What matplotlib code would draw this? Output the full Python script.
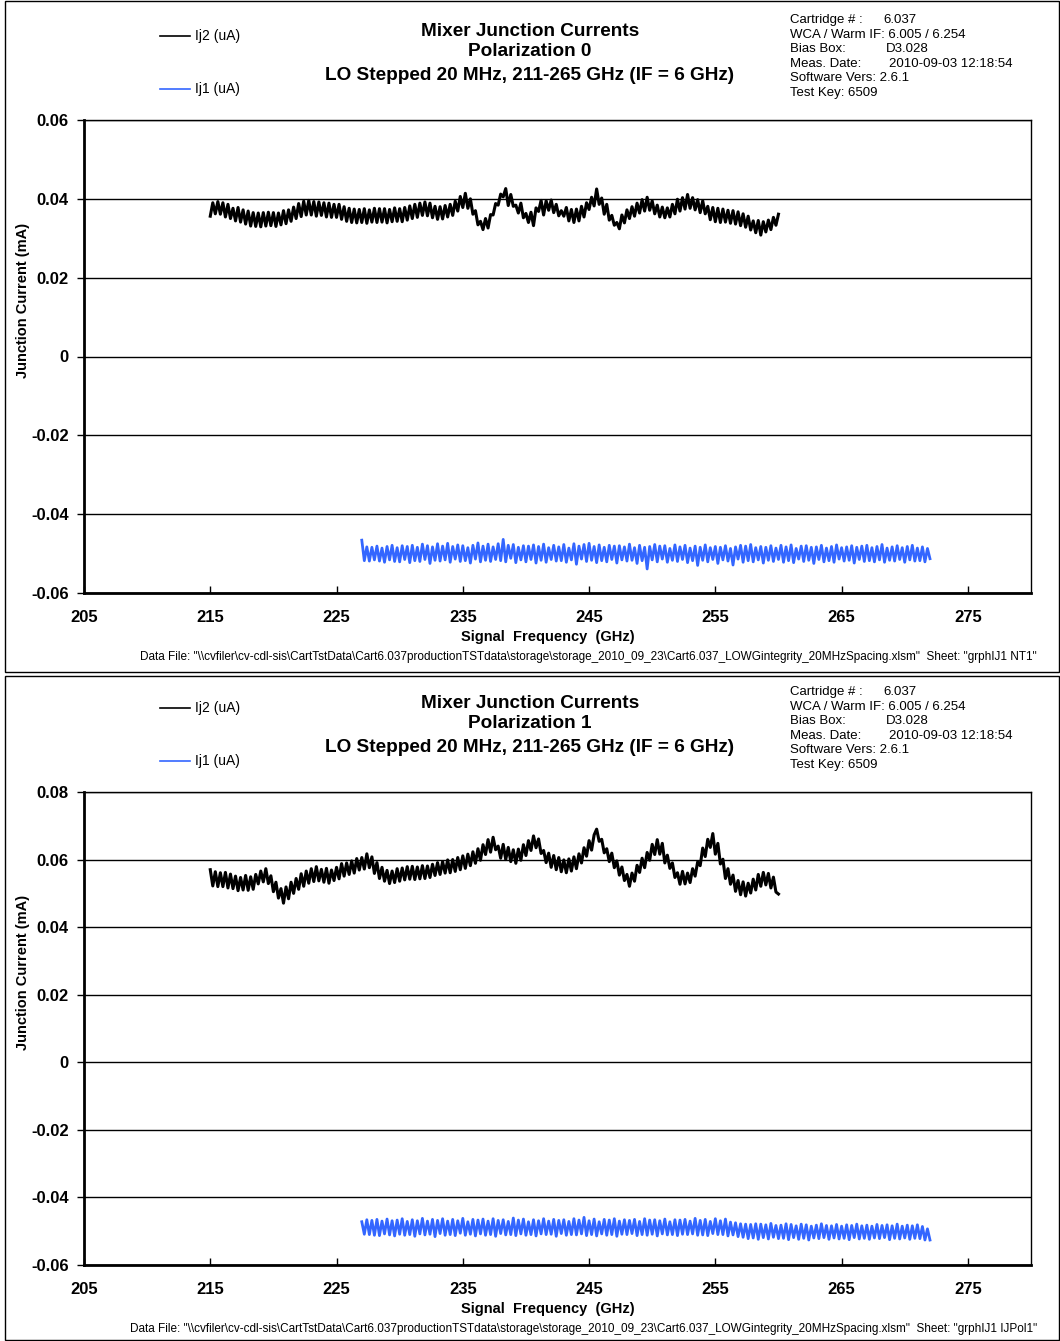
#!/usr/bin/env python3

import numpy as np
import matplotlib
matplotlib.use("Agg")
import matplotlib.pyplot as plt
from matplotlib.lines import Line2D
from matplotlib.patches import Rectangle

plt.rcParams["font.family"] = ["Liberation Sans", "DejaVu Sans"]

W, H = 1060, 1341

# LO grid used for the hand-read traces (GHz)
IJ2_START, IJ2_STOP = 215.0, 260.0
IJ1_START, IJ1_STOP = 227.0, 272.0
STEP = 0.2

# junction currents, in uA
ij2_pol0 = [
    35.6, 39.0, 36.2, 39.3, 36.1, 39.0, 35.4, 38.6, 35.0, 37.6,
    34.4, 37.8, 34.1, 37.2, 33.6, 36.9, 33.1, 36.5, 33.0, 36.4,
    32.9, 36.5, 33.1, 36.6, 33.2, 36.5, 33.0, 36.4, 33.4, 37.0,
    33.7, 37.2, 34.3, 37.9, 35.0, 38.8, 35.5, 39.4, 35.9, 39.6,
    35.9, 39.3, 35.6, 39.2, 35.8, 39.0, 35.4, 38.9, 35.3, 38.6,
    35.3, 38.6, 34.8, 38.0, 34.3, 37.6, 34.0, 37.4, 33.9, 37.3,
    34.0, 37.5, 33.8, 37.2, 34.1, 37.6, 34.0, 37.5, 34.1, 37.5,
    33.9, 37.3, 34.2, 37.7, 34.3, 37.5, 34.2, 37.8, 34.6, 38.2,
    35.0, 38.6, 35.3, 38.9, 35.8, 39.2, 35.7, 38.9, 35.2, 38.1,
    34.8, 38.0, 34.9, 38.3, 35.4, 38.6, 35.8, 39.4, 36.9, 40.6,
    37.8, 41.4, 37.6, 40.0, 36.1, 37.0, 33.4, 34.3, 32.2, 35.0,
    32.6, 36.0, 35.9, 38.8, 38.4, 41.2, 40.5, 42.6, 38.3, 41.1,
    38.1, 38.4, 36.4, 38.9, 35.2, 36.3, 34.0, 36.6, 33.2, 37.7,
    36.8, 39.6, 35.9, 39.5, 37.1, 39.7, 36.5, 38.6, 35.7, 37.0,
    35.6, 37.8, 34.4, 37.3, 34.0, 37.4, 34.4, 38.1, 35.4, 39.0,
    37.3, 40.4, 38.2, 42.5, 38.6, 40.2, 36.1, 38.6, 34.6, 35.8,
    33.3, 34.0, 32.4, 35.9, 33.9, 37.2, 35.0, 38.0, 35.6, 38.9,
    36.4, 39.8, 36.9, 40.4, 37.1, 39.5, 36.2, 38.4, 35.4, 37.9,
    35.2, 37.7, 35.4, 38.6, 36.2, 39.9, 36.9, 40.3, 37.4, 41.1,
    37.6, 40.3, 37.2, 39.8, 36.5, 39.5, 36.2, 38.1, 34.7, 37.8,
    34.2, 37.6, 34.0, 37.4, 34.1, 37.1, 33.8, 37.0, 33.6, 36.7,
    33.2, 36.2, 32.8, 35.6, 32.1, 34.4, 31.4, 34.5, 30.8, 34.2,
    31.6, 34.6, 32.2, 35.3, 33.3, 36.1,
]

ij1_pol0 = [
    -46.6, -51.8, -48.3, -51.9, -48.4, -51.6, -48.1, -51.9, -48.6, -52.2,
    -48.2, -51.6, -47.9, -52.0, -48.5, -52.1, -48.0, -51.5, -48.2, -52.3,
    -47.9, -51.8, -48.4, -52.0, -47.6, -51.5, -48.0, -52.5, -48.3, -51.7,
    -47.5, -51.9, -48.1, -51.6, -47.4, -52.2, -48.2, -51.4, -47.8, -52.0,
    -48.0, -51.8, -48.5, -52.4, -47.9, -51.4, -47.3, -52.1, -48.1, -51.7,
    -47.6, -52.0, -48.3, -51.5, -47.5, -51.8, -46.4, -52.1, -47.9, -51.2,
    -47.7, -52.3, -48.4, -51.6, -48.0, -52.1, -48.1, -51.5, -47.8, -52.4,
    -48.2, -51.7, -47.6, -52.2, -48.5, -51.5, -47.9, -51.9, -48.3, -51.8,
    -47.7, -52.2, -48.6, -51.6, -47.5, -52.7, -48.1, -51.4, -47.7, -52.0,
    -47.4, -51.7, -48.2, -52.3, -47.8, -51.8, -48.4, -52.1, -47.9, -51.5,
    -48.1, -52.4, -48.0, -51.6, -48.3, -51.9, -47.6, -51.7, -48.5, -52.5,
    -47.9, -51.8, -48.4, -53.9, -48.2, -51.6, -47.7, -52.1, -48.1, -51.4,
    -48.0, -52.2, -48.7, -51.7, -47.8, -52.0, -48.3, -51.5, -47.9, -52.3,
    -48.6, -51.8, -48.1, -53.0, -48.4, -51.7, -47.8, -52.1, -48.5, -51.5,
    -48.2, -52.5, -48.4, -51.6, -48.0, -51.9, -48.7, -52.9, -48.3, -51.4,
    -47.9, -52.2, -48.1, -51.8, -47.7, -52.1, -48.5, -51.6, -48.2, -52.4,
    -48.4, -51.7, -48.0, -52.0, -48.6, -51.5, -47.9, -52.2, -48.3, -51.8,
    -47.8, -52.3, -48.7, -51.4, -48.1, -52.0, -48.0, -51.7, -48.4, -52.5,
    -48.3, -51.5, -47.9, -52.1, -48.6, -51.8, -48.2, -52.2, -47.8, -51.4,
    -48.5, -51.9, -48.3, -51.7, -48.0, -52.4, -48.4, -51.5, -48.1, -52.0,
    -47.9, -51.8, -48.5, -52.1, -48.2, -51.6, -47.7, -52.2, -48.6, -51.7,
    -48.3, -51.9, -48.0, -51.5, -48.5, -52.2, -48.2, -51.6, -47.9, -51.9,
    -48.6, -51.8, -48.3, -52.1, -48.7, -51.3,
]

ij2_pol1 = [
    57.0, 52.2, 56.4, 52.0, 56.1, 52.0, 56.2, 51.6, 55.7, 51.4,
    55.1, 50.8, 54.7, 51.0, 55.3, 50.9, 54.9, 51.2, 55.6, 52.8,
    56.6, 53.4, 57.3, 52.9, 55.2, 50.5, 53.3, 48.6, 51.4, 47.1,
    51.9, 48.4, 53.3, 50.0, 54.4, 51.2, 55.8, 52.1, 56.6, 53.0,
    57.3, 53.5, 57.9, 53.7, 57.1, 53.3, 57.4, 53.0, 56.9, 53.8,
    57.7, 54.3, 58.8, 55.1, 59.0, 55.6, 59.6, 56.0, 60.3, 56.9,
    60.6, 57.2, 61.7, 57.6, 60.8, 55.9, 59.1, 54.4, 57.7, 53.6,
    56.8, 52.9, 56.6, 53.2, 57.3, 53.6, 57.5, 54.0, 57.9, 54.2,
    58.0, 54.1, 57.8, 54.3, 58.2, 54.4, 58.1, 54.7, 58.6, 55.3,
    59.1, 55.6, 59.4, 56.0, 59.9, 56.1, 60.0, 56.5, 60.6, 57.0,
    61.1, 57.4, 61.6, 58.2, 62.3, 58.9, 63.2, 59.8, 64.4, 61.5,
    65.9, 62.2, 66.6, 62.9, 64.0, 60.4, 64.5, 60.0, 63.6, 59.4,
    62.9, 58.9, 63.1, 59.8, 64.4, 61.2, 65.6, 62.7, 67.0, 63.5,
    66.1, 61.8, 62.7, 59.1, 61.9, 57.7, 61.2, 57.0, 60.6, 56.4,
    59.9, 56.1, 60.2, 56.6, 60.8, 57.3, 61.7, 59.0, 63.5, 61.0,
    65.6, 62.8, 67.3, 69.0, 65.4, 66.0, 62.0, 63.2, 59.4, 61.9,
    57.6, 59.6, 55.4, 57.8, 53.8, 55.6, 52.1, 56.0, 53.6, 58.3,
    56.2, 60.4, 57.6, 62.1, 59.8, 64.5, 61.5, 65.9, 61.6, 64.8,
    59.0, 61.3, 57.4, 59.0, 54.7, 56.1, 52.7, 56.5, 52.8, 56.0,
    53.2, 57.3, 55.1, 59.3, 58.2, 63.4, 60.9, 66.0, 63.6, 67.7,
    61.6, 64.8, 58.7, 60.1, 54.4, 57.3, 52.7, 55.4, 50.6, 53.8,
    49.6, 53.4, 49.2, 53.0, 50.1, 54.2, 51.0, 55.6, 52.1, 56.2,
    52.5, 55.9, 51.6, 54.8, 50.4, 49.8,
]

ij1_pol1 = [
    -47.2, -50.9, -46.6, -51.0, -46.8, -51.2, -46.5, -51.3, -47.0, -50.8,
    -46.4, -51.1, -46.9, -51.4, -46.7, -50.9, -46.3, -51.2, -47.1, -51.0,
    -46.6, -51.5, -46.9, -50.8, -46.2, -51.1, -47.0, -50.9, -46.5, -51.6,
    -46.8, -50.7, -46.3, -51.2, -47.0, -51.0, -46.5, -51.3, -46.9, -50.6,
    -46.2, -51.2, -47.2, -50.9, -46.5, -51.4, -46.7, -50.8, -46.4, -51.2,
    -47.0, -51.0, -46.3, -51.5, -46.8, -50.7, -46.6, -51.1, -47.1, -51.0,
    -46.1, -51.3, -46.7, -50.8, -46.4, -51.2, -47.2, -51.0, -46.6, -51.4,
    -46.9, -50.8, -46.3, -51.0, -47.0, -50.9, -46.5, -51.5, -46.8, -50.7,
    -46.6, -51.2, -47.1, -51.0, -46.3, -51.1, -46.7, -50.8, -45.9, -51.3,
    -46.9, -51.0, -46.4, -51.4, -47.2, -50.8, -46.5, -51.2, -46.7, -51.0,
    -46.3, -51.5, -47.0, -50.9, -46.6, -51.0, -46.8, -50.7, -46.5, -51.3,
    -47.1, -51.0, -46.3, -51.2, -46.7, -50.9, -46.6, -51.4, -46.9, -50.8,
    -46.4, -51.1, -47.2, -51.0, -46.6, -51.3, -46.7, -50.9, -46.5, -51.0,
    -47.0, -50.8, -46.2, -51.2, -46.8, -51.1, -46.5, -51.3, -47.1, -50.7,
    -46.3, -51.0, -46.9, -51.0, -46.4, -51.4, -47.3, -51.1, -47.5, -51.6,
    -47.8, -51.8, -47.9, -52.2, -48.0, -52.0, -47.8, -52.4, -47.9, -51.9,
    -48.1, -52.3, -47.7, -51.8, -48.3, -52.2, -48.2, -52.1, -47.8, -52.5,
    -48.0, -51.9, -48.4, -52.4, -47.9, -52.1, -48.1, -52.6, -48.5, -52.0,
    -48.2, -52.2, -47.8, -51.9, -48.3, -52.4, -48.4, -52.0, -48.0, -52.3,
    -48.5, -52.1, -48.1, -52.5, -48.3, -51.9, -47.9, -52.3, -48.4, -52.1,
    -48.2, -52.4, -48.5, -52.0, -48.0, -52.2, -48.3, -51.9, -48.1, -52.5,
    -48.4, -52.1, -47.9, -52.3, -48.5, -52.0, -48.2, -52.4, -48.4, -52.1,
    -48.1, -52.2, -48.6, -52.6, -49.3, -52.6,
]

x_ticks = [205, 215, 225, 235, 245, 255, 265, 275]
y_ticks_pol0 = [-0.06, -0.04, -0.02, 0, 0.02, 0.04, 0.06]
y_ticks_pol1 = [-0.06, -0.04, -0.02, 0, 0.02, 0.04, 0.06, 0.08]
y_labels_pol0 = ["-0.06", "-0.04", "-0.02", "0", "0.02", "0.04", "0.06"]
y_labels_pol1 = ["-0.06", "-0.04", "-0.02", "0", "0.02", "0.04", "0.06", "0.08"]

info_labels = ["Cartridge # :", "WCA / Warm IF:", "Bias Box:", "Meas. Date:",
               "Software Vers:", "Test Key:"]
info_values = ["6.037", "6.005 / 6.254", "D3.028", "2010-09-03 12:18:54",
               "2.6.1", "6509"]
info_value_x = [883, 890, 886, 889, 882, 849]

data_path = ('Data File: "\\\\cvfiler\\cv-cdl-sis\\CartTstData\\Cart6.037productionTSTdata'
             '\\storage\\storage_2010_09_23\\Cart6.037_LOWGintegrity_20MHzSpacing.xlsm"')
sheets = ['Sheet: "grphIJ1 NT1"', 'Sheet: "grphIJ1 IJPol1"']

BLUE = "#3366ff"


def fx(x):
    return x / W


def fy(y):
    return 1 - y / H


def draw_panel(fig, off, pol, ij2, ij1, yticks, ylabels):
    # outer frame of the sheet chart
    top = 1 if off == 0 else off + 4
    bot = 672 if off == 0 else H - 1
    fig.patches.append(Rectangle((fx(5), fy(bot)), fx(1054), (bot - top) / H,
                                 transform=fig.transFigure, fill=False,
                                 edgecolor="black", linewidth=1.0))

    ax = fig.add_axes([fx(84), fy(off + 593), 947 / W, 473 / H])
    f2 = np.arange(IJ2_START, IJ2_STOP + STEP / 2, STEP)
    f1 = np.arange(IJ1_START, IJ1_STOP + STEP / 2, STEP)
    ax.plot(f2, np.array(ij2) / 1000.0, color="black", linewidth=2.2)
    ax.plot(f1, np.array(ij1) / 1000.0, color=BLUE, linewidth=2.0)

    ax.set_xlim(205, 280)
    ax.set_ylim(yticks[0], yticks[-1])
    ax.set_xticks(x_ticks)
    ax.set_xticklabels([str(t) for t in x_ticks])
    ax.set_yticks(yticks)
    ax.set_yticklabels(ylabels)
    ax.tick_params(axis="y", direction="out", length=5, width=1, pad=6,
                   labelsize=12)
    ax.tick_params(axis="x", direction="in", length=5, width=1, pad=12,
                   labelsize=12)
    for lab in ax.get_xticklabels() + ax.get_yticklabels():
        lab.set_fontweight("bold")
    ax.yaxis.grid(True, color="black", linewidth=1.0)
    ax.set_axisbelow(True)
    for side in ["top", "right"]:
        ax.spines[side].set_linewidth(1.0)
    for side in ["left", "bottom"]:
        ax.spines[side].set_linewidth(2.0)

    ax.set_xlabel("Signal  Frequency  (GHz)", fontsize=10.5, fontweight="bold")
    ax.xaxis.set_label_coords((548 - 84) / 947, (593 - 630) / 473)
    ax.set_ylabel("Junction Current (mA)", fontsize=10.5, fontweight="bold")
    ax.yaxis.set_label_coords((30 - 84) / 947, 0.619)

    # titles
    titles = ["Mixer Junction Currents", f"Polarization {pol}",
              "LO Stepped 20 MHz, 211-265 GHz (IF = 6 GHz)"]
    for t, y in zip(titles, [31, 52, 75]):
        fig.text(fx(530), fy(off + y), t, ha="center", va="center",
                 fontsize=13.7, fontweight="bold")

    # legend, drawn like the sheet's free-floating key
    for name, col, y in [("Ij2 (uA)", "black", 36), ("Ij1 (uA)", BLUE, 89)]:
        fig.lines.append(Line2D([fx(160), fx(190)], [fy(off + y)] * 2,
                                transform=fig.transFigure, color=col,
                                linewidth=1.2))
        fig.text(fx(195), fy(off + y), name, ha="left", va="center",
                 fontsize=10)

    # test info block
    for i, (lab, val, vx) in enumerate(zip(info_labels, info_values, info_value_x)):
        y = off + 20 + i * 14.6
        if i in (1, 4, 5):
            fig.text(fx(790), fy(y), f"{lab} {val}", ha="left", va="center",
                     fontsize=9.5)
        else:
            fig.text(fx(790), fy(y), lab, ha="left", va="center", fontsize=9.5)
            fig.text(fx(vx), fy(y), val, ha="left", va="center", fontsize=9.5)

    fig.text(fx(1037), fy(off + 657), f"{data_path}  {sheets[pol]}",
             ha="right", va="center", fontsize=8.5)
    return ax


def main():
    fig = plt.figure(figsize=(W / 100, H / 100), dpi=100)
    draw_panel(fig, 0, 0, ij2_pol0, ij1_pol0, y_ticks_pol0, y_labels_pol0)
    draw_panel(fig, 672, 1, ij2_pol1, ij1_pol1, y_ticks_pol1, y_labels_pol1)
    fig.savefig("out.png", dpi=100)
    plt.close(fig)


if __name__ == "__main__":
    main()
